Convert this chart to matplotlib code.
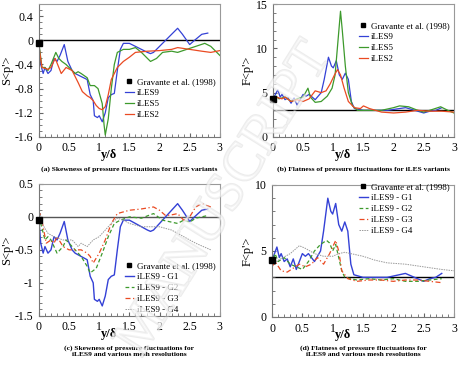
import matplotlib
matplotlib.use("Agg")
import matplotlib.pyplot as plt
import matplotlib.patheffects as pe
from matplotlib.ticker import MultipleLocator, FormatStrFormatter
from matplotlib.lines import Line2D

plt.rcParams["font.family"] = ["Liberation Serif", "DejaVu Serif"]
plt.rcParams["axes.unicode_minus"] = False

# ---- data ----
# Skewness S<p'> for iLES variants (panel a); iLES9 is also G1 in panel c
s9_x = [0.0, 0.03, 0.07, 0.1, 0.15, 0.2, 0.25, 0.3, 0.35, 0.42, 0.48, 0.55, 0.6,
        0.7, 0.8, 0.85, 0.9, 0.92, 0.97, 1.0, 1.05, 1.1, 1.15, 1.2, 1.25, 1.3,
        1.35, 1.4, 1.5, 1.6, 1.7, 1.8, 1.85, 1.9, 2.0, 2.1, 2.25, 2.3, 2.38,
        2.5, 2.58, 2.7, 2.8]
s9_y = [-0.05, -0.4, -0.55, -0.45, -0.55, -0.5, -0.3, -0.35, -0.25, -0.07,
        -0.35, -0.5, -0.55, -0.6, -0.65, -0.9, -1.0, -1.25, -1.28, -1.25,
        -1.35, -1.2, -0.95, -0.9, -0.88, -0.5, -0.15, -0.05, -0.05, -0.1,
        -0.15, -0.2, -0.22, -0.2, -0.1, 0.0, 0.15, 0.2, 0.1, -0.07, 0.0, 0.1,
        0.12]
s5_x = [0.0, 0.05, 0.1, 0.15, 0.2, 0.28, 0.33, 0.38, 0.45, 0.5, 0.6, 0.65, 0.7,
        0.8, 0.85, 0.92, 0.98, 1.05, 1.08, 1.1, 1.15, 1.2, 1.25, 1.3, 1.4, 1.5,
        1.6, 1.7, 1.85, 1.95, 2.05, 2.2, 2.3, 2.45, 2.6, 2.75, 2.85, 3.0]
s5_y = [-0.05, -0.45, -0.45, -0.5, -0.4, -0.2, -0.3, -0.35, -0.4, -0.45, -0.55,
        -0.52, -0.55, -0.62, -0.75, -0.75, -0.8, -1.05, -1.4, -1.57, -1.3, -0.8,
        -0.4, -0.2, -0.15, -0.15, -0.12, -0.2, -0.35, -0.3, -0.2, -0.18, -0.2,
        -0.15, -0.1, -0.05, -0.1, -0.25]
s2_x = [0.0, 0.05, 0.15, 0.2, 0.27, 0.33, 0.37, 0.45, 0.55, 0.65, 0.72, 0.8,
        0.85, 0.9, 0.95, 1.0, 1.05, 1.1, 1.15, 1.2, 1.3, 1.4, 1.5, 1.6, 1.8,
        2.0, 2.2, 2.3, 2.5, 2.7, 2.85, 3.0]
s2_y = [-0.1, -0.45, -0.48, -0.45, -0.3, -0.45, -0.55, -0.45, -0.5, -0.7,
        -0.85, -0.92, -0.95, -1.0, -1.08, -1.13, -1.15, -1.1, -0.9, -0.65,
        -0.45, -0.35, -0.28, -0.2, -0.18, -0.17, -0.15, -0.12, -0.15, -0.18,
        -0.2, -0.17]

# Flatness F<p'> for iLES variants (panel b); iLES9 is also G1 in panel d
f9_x = [0.0, 0.08, 0.12, 0.15, 0.2, 0.25, 0.3, 0.35, 0.4, 0.45, 0.5, 0.55, 0.6,
        0.7, 0.75, 0.8, 0.85, 0.92, 0.97, 1.0, 1.05, 1.1, 1.15, 1.2, 1.25, 1.3,
        1.35, 1.5, 1.7, 1.9, 2.1, 2.2, 2.35, 2.5, 2.6, 2.7, 2.8]
f9_y = [4.3, 5.3, 4.5, 4.8, 4.2, 4.4, 3.8, 4.4, 3.6, 4.2, 4.8, 4.6, 4.8, 4.2,
        4.6, 5.0, 6.5, 9.0, 8.0, 7.8, 8.6, 7.0, 6.5, 7.2, 6.5, 4.0, 3.2, 3.0,
        3.0, 3.0, 3.2, 3.3, 3.0, 2.7, 2.9, 3.0, 3.3]
f5_x = [0.0, 0.05, 0.1, 0.2, 0.3, 0.4, 0.5, 0.58, 0.62, 0.7, 0.8, 0.9, 0.98,
        1.03, 1.08, 1.12, 1.15, 1.2, 1.25, 1.32, 1.4, 1.6, 1.8, 2.0, 2.1, 2.25,
        2.4, 2.5, 2.6, 2.78, 2.9, 3.0]
f5_y = [4.4, 4.6, 4.3, 4.5, 4.0, 4.3, 4.5, 5.5, 4.5, 3.9, 4.0, 4.6, 5.5, 7.0,
        11.0, 14.2, 12.0, 8.0, 5.0, 3.5, 3.0, 3.0, 3.0, 3.3, 3.5, 3.4, 3.0, 2.8,
        3.0, 3.4, 3.0, 2.7]
f2_x = [0.0, 0.05, 0.15, 0.2, 0.3, 0.4, 0.5, 0.6, 0.7, 0.8, 0.88, 0.95, 1.02,
        1.07, 1.12, 1.18, 1.25, 1.35, 1.45, 1.5, 1.6, 1.8, 2.0, 2.2, 2.4, 2.6,
        2.8, 3.0]
f2_y = [4.2, 4.5, 4.3, 4.5, 4.0, 4.2, 4.0, 4.3, 5.2, 5.0, 5.2, 6.0, 7.0, 7.6,
        7.0, 5.5, 4.0, 3.3, 3.2, 3.5, 3.2, 2.8, 2.7, 2.8, 3.0, 2.9, 2.9, 2.8]

# Skewness for iLES9 mesh resolutions (panel c)
sg2_x = [0.0, 0.03, 0.1, 0.15, 0.2, 0.3, 0.4, 0.45, 0.55, 0.6, 0.7, 0.8, 0.85,
         0.95, 1.05, 1.15, 1.25, 1.35, 1.5, 1.7, 1.9, 2.05, 2.2, 2.3, 2.4, 2.5,
         2.6, 2.8]
sg2_y = [0.0, -0.1, -0.35, -0.3, -0.35, -0.55, -0.45, -0.35, -0.45, -0.5, -0.6,
         -0.75, -0.85, -0.78, -0.55, -0.3, -0.1, -0.05, 0.0, -0.02, 0.05, -0.05,
         -0.08, -0.1, -0.05, -0.08, -0.02, 0.02]
sg3_x = [0.0, 0.02, 0.06, 0.12, 0.2, 0.25, 0.3, 0.4, 0.5, 0.6, 0.7, 0.8, 0.85,
         0.9, 1.0, 1.1, 1.2, 1.3, 1.5, 1.7, 1.9, 2.0, 2.1, 2.2, 2.3, 2.4, 2.5,
         2.6, 2.7, 2.85]
sg3_y = [0.0, 0.05, -0.1, -0.4, -0.35, -0.4, -0.3, -0.45, -0.5, -0.5, -0.5,
         -0.55, -0.6, -0.7, -0.55, -0.35, -0.1, 0.05, 0.1, 0.12, 0.15, 0.1, 0.02,
         0.03, 0.05, -0.05, 0.0, 0.15, 0.2, 0.15]
sg4_x = [0.0, 0.02, 0.05, 0.15, 0.25, 0.4, 0.55, 0.65, 0.7, 0.8, 0.9, 1.0, 1.1,
         1.2, 1.3, 1.4, 1.5, 1.7, 2.0, 2.2, 2.4, 2.6, 2.85]
sg4_y = [0.0, 0.05, -0.1, -0.25, -0.3, -0.35, -0.35, -0.45, -0.4, -0.45, -0.35,
         -0.3, -0.2, -0.1, -0.02, -0.05, -0.1, -0.15, -0.15, -0.2, -0.3, -0.4,
         -0.5]

# Flatness for iLES9 mesh resolutions (panel d)
fg2_x = [0.0, 0.05, 0.1, 0.2, 0.3, 0.4, 0.5, 0.6, 0.7, 0.8, 0.9, 0.95, 1.0,
         1.05, 1.1, 1.15, 1.2, 1.4, 1.6, 1.8, 2.0, 2.2, 2.4, 2.6, 2.8]
fg2_y = [4.0, 4.8, 4.2, 4.5, 4.0, 3.8, 3.6, 4.2, 5.0, 5.5, 5.8, 5.6, 5.0, 5.5,
         4.5, 3.5, 3.0, 2.8, 2.9, 2.8, 2.9, 2.7, 2.7, 2.8, 2.9]
fg3_x = [0.0, 0.05, 0.15, 0.25, 0.35, 0.45, 0.55, 0.65, 0.75, 0.85, 0.95, 1.05,
         1.1, 1.15, 1.25, 1.4, 1.6, 1.8, 2.0, 2.2, 2.4, 2.6, 2.8]
fg3_y = [3.8, 4.2, 3.5, 3.4, 3.7, 4.0, 3.8, 4.0, 4.5, 4.0, 4.8, 5.8, 5.0, 3.5,
         2.9, 2.7, 2.8, 2.8, 2.7, 2.8, 2.8, 2.7, 2.6]
fg4_x = [0.0, 0.1, 0.3, 0.45, 0.55, 0.7, 0.85, 1.0, 1.1, 1.2, 1.3, 1.5, 1.7,
         1.9, 2.2, 2.5, 2.8, 3.0]
fg4_y = [4.0, 4.3, 4.8, 5.4, 5.2, 4.8, 4.6, 4.6, 4.8, 4.9, 4.8, 4.6, 4.3, 4.1,
         4.0, 3.8, 3.6, 3.5]

# Gravante et al. (1998) wall values
grav_s = -0.05
grav_f = 4.3

BLUE = "#3441d6"
GREEN = "#3d9a2c"
RED = "#ea4a22"
GRAY = "#9a9a9a"

fig = plt.figure(figsize=(4.58, 3.76), dpi=100)
ax_a = fig.add_axes([0.085, 0.636, 0.395, 0.353])
ax_b = fig.add_axes([0.596, 0.636, 0.395, 0.353])
ax_c = fig.add_axes([0.085, 0.160, 0.395, 0.351])
ax_d = fig.add_axes([0.594, 0.157, 0.397, 0.351])


def style(ax, ylim, ymaj, ymin, yfmt, ylabel):
    ax.set_xlim(0, 3)
    ax.set_ylim(*ylim)
    ax.xaxis.set_major_locator(MultipleLocator(0.5))
    ax.xaxis.set_minor_locator(MultipleLocator(0.1))
    ax.yaxis.set_major_locator(MultipleLocator(ymaj))
    ax.yaxis.set_minor_locator(MultipleLocator(ymin))
    ax.xaxis.set_major_formatter(FormatStrFormatter("%g"))
    ax.yaxis.set_major_formatter(FormatStrFormatter(yfmt))
    ax.tick_params(which="both", direction="in", top=False, right=False,
                   color="#666", labelsize=8.5, pad=4)
    ax.tick_params(which="major", length=3)
    ax.tick_params(which="minor", length=2)
    for s in ax.spines.values():
        s.set_color("#999")
        s.set_linewidth(0.8)
    ax.spines["left"].set_color("#777")
    ax.spines["bottom"].set_color("#777")
    ax.set_xlabel("y/\u03b4", fontsize=9, fontweight="bold", labelpad=0)
    ax.xaxis.set_label_coords(0.39, -0.09)
    ax.set_ylabel(ylabel, fontsize=9, labelpad=1)


def legend(ax, handles, labels, loc, anchor):
    ax.legend(handles, labels, loc=loc, bbox_to_anchor=anchor, frameon=False,
              fontsize=6.5, handlelength=1.0, handletextpad=0.3,
              labelspacing=0.3, borderaxespad=0.1, markerscale=0.9)


grav = Line2D([], [], ls="none", marker="s", color="black", markersize=3.5)

# (a)
ax = ax_a
ax.axhline(0, color="black", lw=1.0, zorder=1)
l9, = ax.plot(s9_x, s9_y, color=BLUE, lw=0.9)
l5, = ax.plot(s5_x, s5_y, color=GREEN, lw=0.9)
l2, = ax.plot(s2_x, s2_y, color=RED, lw=0.9)
ax.plot([0], [grav_s], "s", color="black", markersize=4, clip_on=False, zorder=5)
style(ax, (-1.6, 0.6), 0.4, 0.1, "%g", "S<p'>")
ax.set_yticks([-1.6, -1.2, -0.8, -0.4, 0, 0.4])
legend(ax, [grav, l9, l5, l2],
       ["Gravante et al. (1998)", "iLES9", "iLES5", "iLES2"],
       "lower right", (1.0, 0.1))

# (b)
ax = ax_b
ax.axhline(3, color="black", lw=1.0, zorder=1)
l9, = ax.plot(f9_x, f9_y, color=BLUE, lw=0.9)
l5, = ax.plot(f5_x, f5_y, color=GREEN, lw=0.9)
l2, = ax.plot(f2_x, f2_y, color=RED, lw=0.9)
ax.plot([0], [grav_f], "s", color="black", markersize=4, clip_on=False, zorder=5)
style(ax, (0, 15), 5, 1, "%g", "F<p'>")
legend(ax, [grav, l9, l5, l2],
       ["Gravante et al. (1998)", "iLES9", "iLES5", "iLES2"],
       "upper right", (1.0, 0.9))

# (c)
ax = ax_c
ax.axhline(0, color="#555", lw=1.0, zorder=1)
g1, = ax.plot(s9_x, s9_y, color=BLUE, lw=1.0)
g2, = ax.plot(sg2_x, sg2_y, color=GREEN, lw=0.9, ls=(0, (3, 2)))
g3, = ax.plot(sg3_x, sg3_y, color=RED, lw=0.9, ls=(0, (4, 2, 1, 2)))
g4, = ax.plot(sg4_x, sg4_y, color=GRAY, lw=0.7, ls=(0, (1.5, 1)))
ax.plot([0], [grav_s], "s", color="black", markersize=4, clip_on=False, zorder=5)
style(ax, (-1.5, 0.5), 0.5, 0.1, "%g", "S<p'>")
ax.set_yticks([-1.5, -1, -0.5, 0, 0.5])
legend(ax, [grav, g1, g2, g3, g4],
       ["Gravante et al. (1998)", "iLES9 - G1", "iLES9 - G2", "iLES9 - G3",
        "iLES9 - G4"],
       "lower right", (1.0, -0.02))

# (d)
ax = ax_d
ax.axhline(3, color="black", lw=1.0, zorder=1)
g1, = ax.plot(f9_x, f9_y, color=BLUE, lw=1.0)
g2, = ax.plot(fg2_x, fg2_y, color=GREEN, lw=0.9, ls=(0, (3, 2)))
g3, = ax.plot(fg3_x, fg3_y, color=RED, lw=0.9, ls=(0, (4, 2, 1, 2)))
g4, = ax.plot(fg4_x, fg4_y, color=GRAY, lw=0.7, ls=(0, (1.5, 1)))
ax.plot([0], [grav_f], "s", color="black", markersize=4, clip_on=False, zorder=5)
style(ax, (0, 10), 5, 1, "%g", "F<p'>")
legend(ax, [grav, g1, g2, g3, g4],
       ["Gravante et al. (1998)", "iLES9 - G1", "iLES9 - G2", "iLES9 - G3",
        "iLES9 - G4"],
       "upper right", (1.0, 1.05))

# captions under each panel
cap = dict(fontsize=5.4, fontweight="bold", ha="center", va="top")
fig.text(0.282, 1 - 166 / 376, "(a) Skewness of pressure fluctuations for iLES variants", **cap)
fig.text(0.793, 1 - 166 / 376, "(b) Flatness of pressure fluctuations for iLES variants", **cap)
fig.text(0.282, 1 - 345 / 376, "(c) Skewness of pressure fluctuations for\niLES9 and various mesh resolutions", **cap)
fig.text(0.793, 1 - 345 / 376, "(d) Flatness of pressure fluctuations for\niLES9 and various mesh resolutions", **cap)

# faint diagonal watermark of the source page
fig.text(0.49, 0.47, "MANUSCRIPT", fontsize=40, rotation=58, ha="center",
         va="center", color="white", alpha=0.4, zorder=10,
         path_effects=[pe.withStroke(linewidth=1.5, foreground="#d0d0d0")])

fig.savefig("out.png", dpi=100)
